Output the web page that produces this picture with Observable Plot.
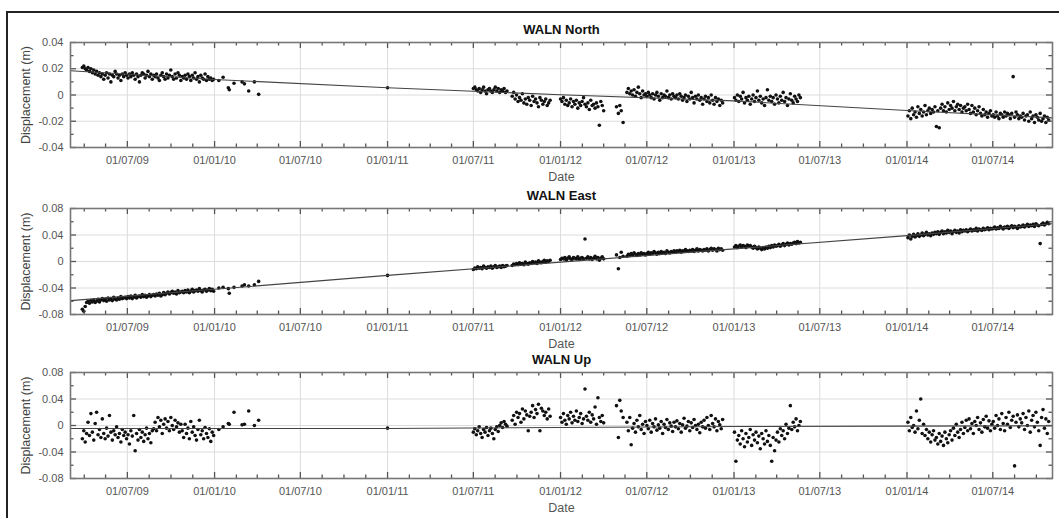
<!DOCTYPE html>
<html><head><meta charset="utf-8">
<script src="https://cdn.jsdelivr.net/npm/d3@7"></script>
<script src="https://cdn.jsdelivr.net/npm/@observablehq/plot@0.6"></script>
<style>
html,body{margin:0;padding:0;background:#fff;overflow:hidden;width:1059px;height:518px;}
#frame{position:absolute;left:6px;top:11px;width:1100px;height:600px;border:2px solid #222;box-sizing:border-box;}
.panel{position:absolute;left:0;}
.panel svg{background:transparent;overflow:visible;}
</style></head><body>
<div id="frame"></div>
<div id="p1" class="panel" style="top:0px"></div>
<div id="p2" class="panel" style="top:180px"></div>
<div id="p3" class="panel" style="top:345px"></div>
<script>
// ---------- data (values in mm) ----------
const segStart = ["2009-03-28","2011-07-01","2011-09-21","2012-01-01","2012-05-20","2013-01-02","2014-01-03"];
const segEnd   = ["2009-12-30","2011-09-10","2011-12-10","2012-04-01","2012-12-08","2013-05-21","2014-10-27"];

const northMM = [
 [21,22,20,19,21,18,20,17,19,16,18,
  15,17,14,16,12,15,17,13,16,10,15,14,18,16,13,15,11,16,14,17,
  15,13,16,14,17,15,12,16,14,10,15,17,16,13,15,18,14,16,12,15,
  14,16,13,11,15,17,14,12,16,13,15,19,14,12,16,13,17,15,11,14,
  13,15,12,16,14,11,15,13,17,12,14,10,15,13,12,16,11,14,12,13,11,12],
 [5,6,4,3,5,2,4,6,3,1,4,5,3,2,4,6,3,5,2,4,3,5,2,3],
 [-1,2,-3,0,-5,-2,-4,1,-6,-3,-7,-2,-4,-8,-1,-5,-3,-6,-9,-2,-4,-7,-5,-3,-8,-6,-4],
 [-3,-5,-2,-7,-4,-8,-6,-3,-9,-5,-7,-4,-10,-6,-8,-5,-2,-7,-9,-6,-11,-4,-8,-7,-10,-6,-9,-23,-5,-8,-12],
 [2,5,1,3,0,4,-1,2,6,1,-2,3,0,1,
  -1,2,0,-2,1,-3,0,2,-1,-4,1,-2,0,-1,3,-2,0,-3,1,-1,
  -2,0,-3,1,-1,-4,-2,0,-5,-1,-3,2,-2,-6,-1,-3,0,-4,-2,-7,
  -3,-1,-5,-2,-6,0,-4,-7,-2,-5,-3,-8,-4,-6],
 [-2,-4,0,-5,-1,-3,2,-6,-2,-4,-1,-7,-3,0,-5,-2,3,-4,-1,-6,-3,-8,-2,4,-4,-1,-5,-2,-7,0,-3,-6,-1,-4,2,-5,-2,-8,-3,1,-4,-6,-1,-3,-5,0,-2],
 [-16,-12,-18,-10,-15,-13,-17,-9,-14,-11,-16,-13,-8,-15,-12,-10,-14,-11,-13,-9,
  -24,-12,-25,-10,-7,-12,-9,-13,-6,-11,-8,-10,-5,-12,-9,-7,-11,-8,-13,-10,
  -9,-12,-7,-11,-14,-8,-13,-10,-15,-12,-9,-14,-16,-11,-15,-13,-17,-14,-12,-16,
  -15,-17,-13,-16,-18,-14,-15,-17,-13,-16,-14,-15,-18,-14,14,-17,-13,-15,-18,-16,
  -17,-14,-19,-16,-15,-20,-13,-18,-16,-21,-15,-17,-19,-14,-20,-18,-16,-21,-17,-19]
];

const eastMM = [
 [-72,-75,-68,-62,-60,-63,-59,-61,-58,-62,
  -60,-57,-61,-58,-56,-59,-57,-60,-55,-58,-56,-59,-54,-57,-58,-55,-57,-53,-56,-55,
  -54,-56,-53,-55,-52,-56,-54,-51,-55,-53,-52,-54,-50,-53,-51,-54,-52,-50,-53,-51,
  -50,-52,-49,-51,-48,-52,-50,-47,-50,-48,-46,-49,-47,-45,-48,-46,-49,-44,-47,-46,
  -45,-47,-44,-46,-43,-47,-45,-42,-46,-44,-43,-45,-41,-44,-46,-43,-42,-45,-43,-41,-44,-42,-45],
 [-12,-10,-11,-8,-10,-9,-11,-7,-9,-10,-8,-9,-7,-10,-8,-6,-9,-8,-7,-9,-6,-8,-7,-6],
 [-6,-4,-5,-3,-5,-2,-4,-3,-5,-1,-3,-4,-2,-3,0,-2,-1,-3,1,-1,-2,0,2,-1,1,0,2],
 [3,5,4,6,2,5,7,4,3,6,5,4,7,3,5,6,4,34,5,7,4,6,3,5,8,4,6,2,5,7,4],
 [8,11,9,12,10,13,11,9,12,10,13,11,12,10,
  12,14,11,13,12,15,13,11,14,12,15,13,14,12,16,14,13,15,14,16,
  14,16,15,17,14,16,15,18,16,15,17,16,18,15,17,19,16,18,17,16,
  18,17,19,16,18,20,17,19,18,16,20,18,19,17],
 [22,24,21,23,25,22,24,23,21,25,23,24,22,20,23,21,19,22,20,18,21,19,22,20,23,21,24,22,25,23,24,26,23,25,27,24,26,28,25,27,26,28,29,27,30,28,29],
 [36,40,34,38,41,37,39,42,38,40,43,39,41,44,40,42,39,43,41,44,
  42,45,41,44,46,42,45,43,47,44,46,42,45,47,44,46,43,48,45,47,
  46,48,45,47,49,46,48,47,50,46,49,48,47,50,48,49,51,48,50,49,
  50,52,49,51,50,53,51,49,52,51,53,50,52,54,51,53,52,50,54,52,
  53,55,52,54,56,53,55,54,56,53,57,55,54,27,56,58,55,57,59,57]
];

const upMM = [
 [-20,-8,-25,-12,5,-15,18,-10,-22,3,
  20,-14,-6,-18,10,-12,-20,-4,-16,15,-10,-22,-8,-14,-2,-18,-12,-25,-6,-15,
  -10,-20,-14,-28,-8,-16,15,-38,-12,-22,-6,-18,-10,-24,-14,-4,-20,-12,-26,-8,
  -5,5,-8,12,-2,8,-12,2,10,-4,6,-8,12,0,-6,8,-2,4,-10,2,
  -8,-18,2,-12,-4,-20,6,-10,-2,-15,-22,-6,8,-14,-8,-20,-3,-12,-18,-5,-24,-10,-15],
 [-10,-5,-14,-8,-2,-12,-18,-6,-10,-3,-15,-8,-4,-12,-20,-6,-2,-9,0,4,-3,6,2,-1],
 [8,15,2,20,12,18,5,25,10,22,16,-8,14,20,30,12,24,18,32,-8,26,22,15,20,10,25,14],
 [12,5,18,8,2,15,10,20,4,14,8,22,6,12,18,3,10,55,14,8,20,5,16,10,28,2,42,12,6,15,4],
 [5,-8,12,-29,-4,3,-10,8,-2,15,-6,2,-12,6,
  0,-5,8,-10,3,-2,10,-7,1,-4,6,-12,2,-3,9,-6,4,-1,-9,5,
  -2,7,-5,3,-10,1,11,-4,-1,6,-8,4,-3,9,0,-6,2,-11,5,-2,
  8,-4,12,0,-6,15,3,-2,10,-8,6,1,-5,9],
 [-10,-54,-22,-15,-28,-8,-20,-32,-12,-25,-18,-6,-30,-14,-22,-10,-26,-16,-35,-12,
  -20,-28,-8,-24,-15,-30,-54,-18,-38,-22,-10,-25,-5,-15,-8,-20,2,-12,-4,30,
  -6,5,-2,10,-8,0,6],
 [5,-8,12,-3,0,-10,22,-5,8,40,-12,2,-15,-6,-20,-10,-25,-14,-8,-22,
  -18,-28,-12,-24,-16,-30,-10,-20,-26,-14,-8,-22,-4,-15,2,-10,-18,-6,5,-12,
  -3,8,-8,10,-5,3,-12,6,0,12,-6,4,-10,9,-2,14,-4,7,-8,2,
  6,-4,15,0,10,-6,18,3,-8,12,2,20,-3,8,14,-61,5,16,-2,10,
  4,18,-6,12,0,22,-10,8,15,-2,20,5,-8,-30,12,24,-4,10,-12,6]
];

// sparse epochs
const sparseDates = ["2010-01-10","2010-01-19","2010-01-30","2010-02-01","2010-02-11","2010-02-28","2010-03-05","2010-03-14","2010-03-26","2010-04-04",
                     "2011-01-01",
                     "2012-04-28","2012-05-02","2012-05-05","2012-05-08","2012-05-12"];
const northSparse = [11,13.5,5.5,4,9,10,8.5,3,10,0.5, 5.5, -9,-14,-8,-12,-21];
const eastSparse  = [-40,-39,-41,-48,-39,-37,-35,-37,-35,-30, -21, 10,-11,6,14,8];
const upSparse    = [-6,-2,3,2,20,1,2,22,0,8, -4, 30,-18,38,22,12];

// trend (model) line
const trendDates = ["2009-03-03","2010-01-01","2011-01-01","2012-01-01","2013-01-01","2014-01-01","2014-11-04"];
const northTrend = [18.5,11.8,5.5,0.2,-4.5,-11.8,-17.4];
const eastTrend  = [-59,-42,-21,-1,19,39,57];
const upTrend    = [-4.5,-4.5,-4.5,-3,-1.5,-1,-0.5];

// axes ticks
const xMajor = ["2009-07-01","2010-01-01","2010-07-01","2011-01-01","2011-07-01","2012-01-01","2012-07-01","2013-01-01","2013-07-01","2014-01-01","2014-07-01"];
const xMajorLabels = ["01/07/09","01/01/10","01/07/10","01/01/11","01/07/11","01/01/12","01/07/12","01/01/13","01/07/13","01/01/14","01/07/14"];
const xMinor = ["2009-04-01","2009-05-16","2009-08-16","2009-10-01","2009-11-16","2010-02-16","2010-04-01","2010-05-16",
  "2010-08-16","2010-10-01","2010-11-16","2011-02-16","2011-04-01","2011-05-16","2011-08-16","2011-10-01","2011-11-16",
  "2012-02-16","2012-04-01","2012-05-16","2012-08-16","2012-10-01","2012-11-16","2013-02-16","2013-04-01","2013-05-16",
  "2013-08-16","2013-10-01","2013-11-16","2014-02-16","2014-04-01","2014-05-16","2014-08-16","2014-10-01"];
const xDomain = ["2009-03-03","2014-11-04"];
const northYTicks = [0.04,0.02,0,-0.02,-0.04];
const northYMinor = [0.03,0.01,-0.01,-0.03];
const wideYTicks = [0.08,0.04,0,-0.04,-0.08];
const wideYMinor = [0.06,0.02,-0.02,-0.06];
const titles = ["WALN North","WALN East","WALN Up"];

// ---------- build ----------
const P = d => new Date(d + "T00:00:00Z");
function buildPoints(segs, sparse) {
  const pts = [];
  segs.forEach((vals, k) => {
    const t0 = +P(segStart[k]), t1 = +P(segEnd[k]), n = vals.length;
    vals.forEach((v, i) => pts.push({date: new Date(t0 + (t1 - t0) * i / (n - 1)), value: v / 1000}));
  });
  sparse.forEach((v, i) => pts.push({date: P(sparseDates[i]), value: v / 1000}));
  return pts;
}
const trendData = arr => arr.map((v, i) => ({date: P(trendDates[i]), value: v / 1000}));

const W = 1059, ML = 70, MR = 7;
const FONT = "'Liberation Sans', Arial, Helvetica, sans-serif";

function panel(id, height, mTop, mBottom, title, domain, yMajor, yMinor, pts, trend) {
  const ph = height - mTop - mBottom, pw = W - ML - MR;
  const xm = xMajor.map(P), xn = xMinor.map(P);
  const tc = "#555";
  const chart = Plot.plot({
    width: W, height, marginLeft: ML, marginRight: MR, marginTop: mTop, marginBottom: mBottom,
    style: {background: "transparent", fontFamily: FONT, overflow: "visible"},
    x: {type: "utc", domain: xDomain.map(P), axis: null},
    y: {domain, axis: null},
    marks: [
      Plot.ruleX(xm, {x: d => d, stroke: "#dcdcdc", strokeWidth: 1}),
      Plot.ruleY(yMajor, {y: d => d, stroke: "#dcdcdc", strokeWidth: 1}),
      Plot.dot(pts, {x: "date", y: "value", r: 1.8, fill: "#111", stroke: null}),
      Plot.line(trend, {x: "date", y: "value", stroke: "#444", strokeWidth: 1.1}),
      // inward ticks, all four sides
      Plot.tickX(xm, {x: d => d, insetTop: ph - 6, stroke: tc, strokeWidth: 1.3}),
      Plot.tickX(xm, {x: d => d, insetBottom: ph - 6, stroke: tc, strokeWidth: 1.3}),
      Plot.tickX(xn, {x: d => d, insetTop: ph - 3.5, stroke: tc, strokeWidth: 1.3}),
      Plot.tickX(xn, {x: d => d, insetBottom: ph - 3.5, stroke: tc, strokeWidth: 1.3}),
      Plot.tickY(yMajor, {y: d => d, insetRight: pw - 6, stroke: tc, strokeWidth: 1.3}),
      Plot.tickY(yMajor, {y: d => d, insetLeft: pw - 6, stroke: tc, strokeWidth: 1.3}),
      Plot.tickY(yMinor, {y: d => d, insetRight: pw - 3.5, stroke: tc, strokeWidth: 1.3}),
      Plot.tickY(yMinor, {y: d => d, insetLeft: pw - 3.5, stroke: tc, strokeWidth: 1.3}),
      Plot.frame({stroke: "#777", strokeWidth: 1.6}),
      // labels
      Plot.text(yMajor, {y: d => d, text: d => String(d), frameAnchor: "left", dx: -7, textAnchor: "end", lineAnchor: "middle", fontSize: 11, fill: "#555"}),
      Plot.text(xm, {x: d => d, text: (d, i) => xMajorLabels[i], frameAnchor: "bottom", dy: 13, lineAnchor: "middle", fontSize: 11, fill: "#555"}),
      Plot.text([title], {text: d => d, frameAnchor: "top", dy: -12.5, lineAnchor: "middle", fontSize: 13, fontWeight: "bold", fill: "#111"}),
      Plot.text(["Date"], {text: d => d, frameAnchor: "bottom", dy: 29, lineAnchor: "middle", fontSize: 12.5, fill: "#555"}),
      Plot.text(["Displacement (m)"], {text: d => d, frameAnchor: "left", dx: -45, rotate: -90, textAnchor: "middle", lineAnchor: "middle", fontSize: 12.5, fill: "#444"})
    ]
  });
  document.getElementById(id).appendChild(chart);
}

panel("p1", 190, 42, 43, titles[0], [-0.04, 0.04], northYTicks, northYMinor,
      buildPoints(northMM, northSparse), trendData(northTrend));
panel("p2", 170, 28, 36, titles[1], [-0.08, 0.08], wideYTicks, wideYMinor,
      buildPoints(eastMM, eastSparse), trendData(eastTrend));
panel("p3", 173, 27, 40, titles[2], [-0.08, 0.08], wideYTicks, wideYMinor,
      buildPoints(upMM, upSparse), trendData(upTrend));
</script>
</body></html>
